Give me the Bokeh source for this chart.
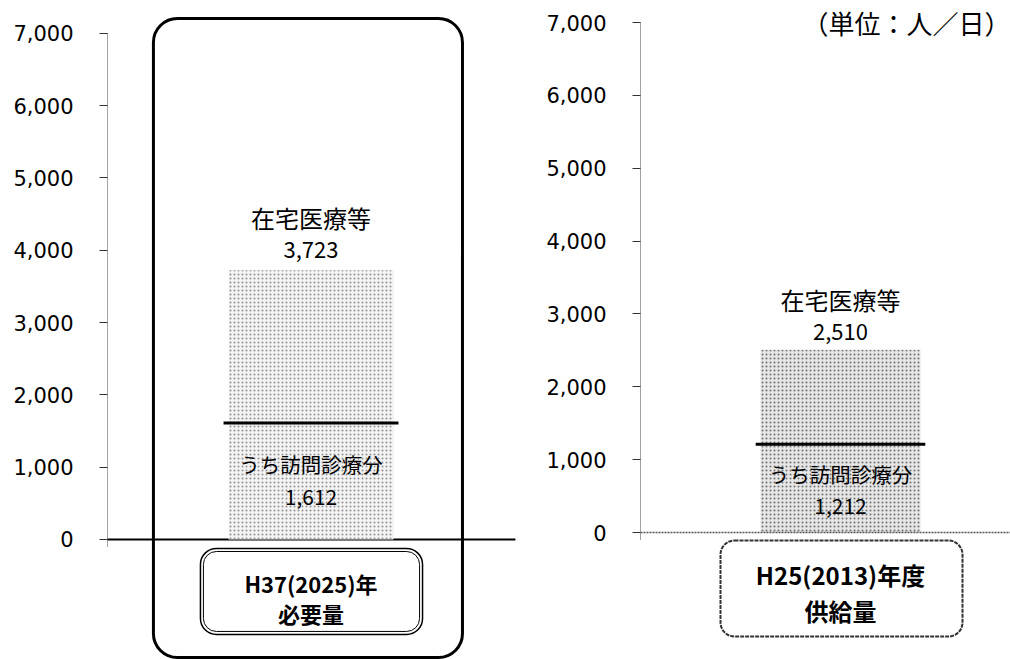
from bokeh.plotting import figure
from bokeh.layouts import row
from bokeh.models import Range1d, FixedTicker, NumeralTickFormatter, BoxAnnotation, Label, Span
from bokeh.core.properties import value
from bokeh.embed import file_html
from bokeh.resources import INLINE

# 在宅医療等の需要量（人／日）
periods = ["H37(2025)年", "H25(2013)年度"]
period_kinds = ["必要量", "供給量"]
total_label = "在宅医療等"
sub_label = "うち訪問診療分"
totals = [3723, 2510]
home_visits = [1612, 1212]
y_ticks = [0, 1000, 2000, 3000, 4000, 5000, 6000, 7000]
unit_text = "（単位：人／日）"

JP = value("Noto Sans CJK JP")
TICK_FONT = "DejaVu Sans"


def base_figure(width, border_left, y_start, y_end, x_start, x_end, axis_dash):
    p = figure(width=width, height=659, output_backend="svg", toolbar_location=None,
               x_range=Range1d(x_start, x_end), y_range=Range1d(y_start, y_end),
               min_border_left=border_left, min_border_right=0,
               min_border_top=0, min_border_bottom=0)
    p.xaxis.visible = False
    p.xgrid.visible = False
    p.ygrid.visible = False
    p.outline_line_color = None
    p.background_fill_color = "white"
    p.border_fill_color = "white"
    ax = p.yaxis[0]
    ax.ticker = FixedTicker(ticks=y_ticks)
    ax.formatter = NumeralTickFormatter(format="0,0")
    ax.bounds = (-100, 7000)
    ax.major_tick_in = 0
    ax.major_tick_out = 8
    ax.minor_tick_line_color = None
    ax.major_tick_line_color = "#333333"
    ax.axis_line_color = "#444444"
    ax.axis_line_dash = axis_dash
    ax.major_label_text_font = TICK_FONT
    ax.major_label_text_font_size = "21px"
    ax.major_label_text_color = "black"
    ax.major_label_standoff = 26
    return p


def frame_box(p, left, right, top, bottom, color, width, radius, dash="solid"):
    p.add_layout(BoxAnnotation(left=left, right=right, top=top, bottom=bottom,
                               fill_color=None, fill_alpha=0, line_color=color,
                               line_alpha=1.0, line_width=width, line_dash=dash,
                               border_radius=radius))


def draw_bar(p, i, fill, hatch_color, top_offsets, sub_offsets, kind_offsets, bold_box):
    total = totals[i]
    sub = home_visits[i]
    p.vbar(x=[0], top=[total], bottom=0, width=1.0, fill_color=fill,
           hatch_pattern="dot", hatch_color=hatch_color, hatch_scale=4, hatch_weight=1,
           line_color=None)
    p.segment(x0=[-0.53], y0=[sub], x1=[0.53], y1=[sub], line_color="black", line_width=3)

    p.text(x=[0], y=[total], text=[total_label], text_font=JP, text_font_size="24px",
           text_align="center", text_baseline="middle", y_offset=top_offsets[0], text_color="black")
    p.text(x=[0], y=[total], text=[f"{total:,}"], text_font=JP, text_font_size="22px",
           text_align="center", text_baseline="middle", y_offset=top_offsets[1], text_color="black")
    p.text(x=[0], y=[sub], text=[sub_label], text_font=JP, text_font_size="20.5px",
           text_align="center", text_baseline="middle", y_offset=sub_offsets[0], text_color="black")
    p.text(x=[0], y=[sub], text=[f"{sub:,}"], text_font=JP, text_font_size="21px",
           text_align="center", text_baseline="middle", y_offset=sub_offsets[1], text_color="black")

    p.text(x=[0], y=[0], text=[periods[i]], text_font=JP, text_font_size=bold_box,
           text_font_style="bold", text_align="center", text_baseline="middle",
           y_offset=kind_offsets[0], text_color="black")
    p.text(x=[0], y=[0], text=[period_kinds[i]], text_font=JP, text_font_size=bold_box,
           text_font_style="bold", text_align="center", text_baseline="middle",
           y_offset=kind_offsets[1], text_color="black")


# ---- left panel: 2025 requirement ----
left = base_figure(540, 107, -1660, 7455, -1.2333, 1.3909, "1 1")
left.segment(x0=[-1.3], y0=[0], x1=[1.239], y1=[0], line_color="black", line_width=2)
draw_bar(left, 0, "#f3f3f3", "#909090", (-53, -20), (41, 74), (44, 74), "22px")

# highlight frame around the 2025 column
frame_box(left, -0.955, 0.918, 7206, -1632, "black", 3, 24)
# double-lined caption box
frame_box(left, -0.670, 0.676, -124, -1314, "black", 1.5, 16)
frame_box(left, -0.652, 0.658, -166, -1272, "black", 1, 13)

# ---- right panel: 2013 supply ----
right = base_figure(470, 100, -1743, 7302, -1.25, 1.0625, "1 1")
right.add_layout(Span(location=0, dimension="width", line_color="#555555",
                      line_width=1.5, line_dash="2 1"))
draw_bar(right, 1, "#e6e6e6", "#707070", (-50, -18), (30, 62), (42, 78), "24px")

frame_box(right, -0.75, 0.7625, -110, -1427, "#333333", 2, 14, "4 1")

right.add_layout(Label(x=1.0625, y=7000, text=unit_text, text_font="Noto Sans CJK JP",
                       text_font_size="26px", text_align="right", text_baseline="middle",
                       text_color="black"))

layout = row(left, right)
open("out.html", "w").write(file_html(layout, INLINE))
